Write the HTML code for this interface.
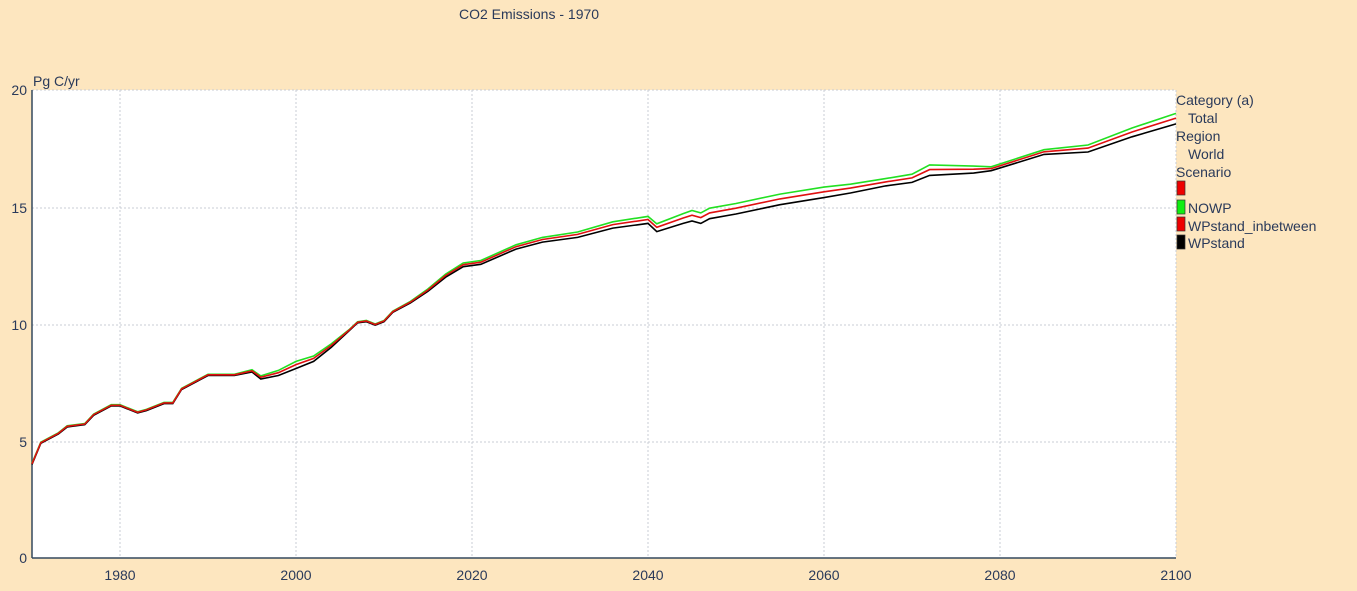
<!DOCTYPE html>
<html><head><meta charset="utf-8"><style>
body{margin:0;background:#fde6bf;width:1357px;height:586px;overflow:hidden;font-family:"Liberation Sans",sans-serif}
</style></head><body>
<svg width="1357" height="586" xmlns="http://www.w3.org/2000/svg" font-family="Liberation Sans, sans-serif">
<rect width="1357" height="586" fill="#fde6bf"/>
<text x="459" y="19" font-size="14" fill="#2a3a5a">CO2 Emissions - 1970</text>
<rect x="32" y="90" width="1144" height="468" fill="#fff"/>
<g stroke="#c8ccd4" stroke-dasharray="2,2" stroke-width="1">
<line x1="32" y1="90" x2="1176" y2="90"/><line x1="32" y1="208" x2="1176" y2="208"/>
<line x1="32" y1="325" x2="1176" y2="325"/><line x1="32" y1="442" x2="1176" y2="442"/>
<line x1="120" y1="90" x2="120" y2="558"/><line x1="296" y1="90" x2="296" y2="558"/>
<line x1="472" y1="90" x2="472" y2="558"/><line x1="648" y1="90" x2="648" y2="558"/>
<line x1="824" y1="90" x2="824" y2="558"/><line x1="1000" y1="90" x2="1000" y2="558"/>
<line x1="1176" y1="90" x2="1176" y2="558"/>
</g>
<line x1="32" y1="90" x2="32" y2="558" stroke="#34495e" stroke-width="1.5"/>
<line x1="32" y1="558" x2="1176" y2="558" stroke="#34495e" stroke-width="1.5"/>
<g font-size="14" fill="#2a3a5a">
<text x="33" y="86">Pg C/yr</text>
<text x="27" y="95" text-anchor="end">20</text><text x="27" y="213" text-anchor="end">15</text>
<text x="27" y="330" text-anchor="end">10</text><text x="27" y="447" text-anchor="end">5</text>
<text x="27" y="563" text-anchor="end">0</text>
<g text-anchor="middle"><text x="120" y="580">1980</text><text x="296" y="580">2000</text><text x="472" y="580">2020</text><text x="648" y="580">2040</text><text x="824" y="580">2060</text><text x="1000" y="580">2080</text><text x="1176" y="580">2100</text></g>
<text x="1176" y="105">Category (a)</text>
<text x="1188" y="123">Total</text>
<text x="1176" y="141">Region</text>
<text x="1188" y="159">World</text>
<text x="1176" y="177">Scenario</text>
<text x="1188" y="213">NOWP</text>
<text x="1188" y="231">WPstand_inbetween</text>
<text x="1188" y="248">WPstand</text>
</g>
<rect x="1177" y="181" width="8" height="14" fill="#e00" stroke="#333" stroke-width="0.7"/>
<rect x="1177" y="200" width="8" height="14" fill="#1e1" stroke="#333" stroke-width="0.7"/>
<rect x="1177" y="217" width="8" height="14" fill="#e00" stroke="#333" stroke-width="0.7"/>
<rect x="1177" y="235" width="8" height="14" fill="#000" stroke="#333" stroke-width="0.7"/>
<g id="lines" fill="none" stroke-width="1.6"></g>
</svg>
<script>
var base=[[1970,4.0],[1971,4.9],[1973,5.3],[1974,5.6],[1976,5.7],[1977,6.1],[1979,6.5],[1980,6.5],[1982,6.2],[1983,6.3],[1985,6.6],[1986,6.6],[1987,7.2],[1989,7.6],[1990,7.8],[1991,7.8],[1992,7.8],[1993,7.8],[1995,7.95],[1996,7.65],[1998,7.8],[2000,8.1],[2002,8.4],[2004,9.0],[2006,9.7],[2007,10.05],[2008,10.1],[2009,9.95],[2010,10.1],[2011,10.5],[2013,10.9],[2015,11.4],[2017,12.0],[2019,12.45],[2021,12.55],[2025,13.2],[2028,13.5],[2032,13.7],[2036,14.1],[2040,14.3],[2041,13.95],[2044,14.3],[2045,14.4],[2046,14.3],[2047,14.5],[2050,14.7],[2055,15.1],[2060,15.4],[2063,15.6],[2067,15.9],[2070,16.05],[2072,16.35],[2077,16.45],[2079,16.55],[2085,17.25],[2090,17.35],[2095,18.0],[2100,18.55]];
var ok=[[1970,0.05],[1994,0.05],[2000,0.3],[2003,0.2],[2006,0.05],[2012,0.05],[2018,0.15],[2028,0.2],[2040,0.3],[2045,0.45],[2060,0.45],[2066,0.3],[2070,0.35],[2074,0.55],[2077,0.3],[2080,0.1],[2090,0.3],[2100,0.45]];
function off(y,k){var o=0;for(var i=0;i<ok.length-1;i++){if(y>=ok[i][0]&&y<=ok[i+1][0]){o=ok[i][1]+(ok[i+1][1]-ok[i][1])*(y-ok[i][0])/(ok[i+1][0]-ok[i][0]);break;}}
 return k==2?o:k==1?o*0.55:0;}
function pts(k){var out=[];for(var i=0;i<base.length;i++){var p=base[i];var v=p[1]+off(p[0],k);out.push((32+(p[0]-1970)*8.8).toFixed(1)+","+(558-v*23.4).toFixed(1));}return out.join(" ")}
var g=document.getElementById("lines"),ns="http://www.w3.org/2000/svg";
[[0,"#000"],[2,"#22e022"],[1,"#e01010"]].forEach(function(s){var l=document.createElementNS(ns,"polyline");l.setAttribute("points",pts(s[0]));l.setAttribute("stroke",s[1]);g.appendChild(l)});
</script>
</body></html>
